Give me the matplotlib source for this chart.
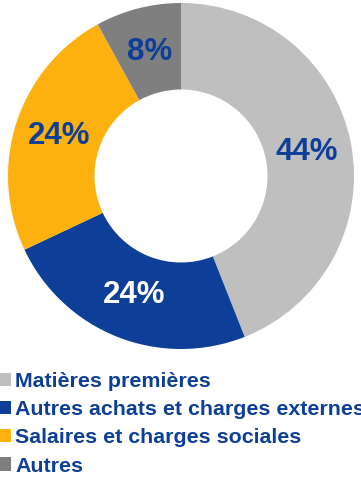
import matplotlib
matplotlib.use("Agg")
import matplotlib.pyplot as plt
from matplotlib.patches import Patch

plt.rcParams['font.family'] = ['Liberation Sans', 'DejaVu Sans']

categories = ["Matières premières", "Autres achats et charges externes",
              "Salaires et charges sociales", "Autres"]
values = [44, 24, 24, 8]
colors = ["#BFBFBF", "#0D3F99", "#FDB10E", "#7F7F7F"]
label_colors = ["#0D3F99", "#FFFFFF", "#0D3F99", "#0D3F99"]
text_blue = "#0D3F99"

W, H = 361, 478
fig = plt.figure(figsize=(W / 100, H / 100), dpi=100)

cx, cy, R = 181, 176, 173
ax = fig.add_axes([(cx - R) / W, (H - cy - R) / H, 2 * R / W, 2 * R / H])
wedges, texts = ax.pie(values, colors=colors, startangle=90, counterclock=False,
                       radius=1.0, wedgeprops=dict(width=0.5, linewidth=0),
                       labels=[f"{v}%" for v in values], labeldistance=0.74,
                       textprops=dict(fontsize=22.5, fontweight='bold',
                                      ha='center', va='center'))
for t, c in zip(texts, label_colors):
    t.set_color(c)
ax.set_xlim(-1, 1)
ax.set_ylim(-1, 1)
ax.set_aspect('equal')
ax.axis('off')

handles = [Patch(facecolor=c, edgecolor='none') for c in colors]
fig.legend(handles, categories, loc='upper left',
           bbox_to_anchor=(-0.004, 1 - 372 / H), frameon=False,
           prop=dict(weight='bold', size=15.4), labelcolor=text_blue,
           handlelength=0.58, handleheight=0.58, handletextpad=0.2,
           labelspacing=0.43, borderpad=0, borderaxespad=0)

fig.savefig("out.png", dpi=100)
